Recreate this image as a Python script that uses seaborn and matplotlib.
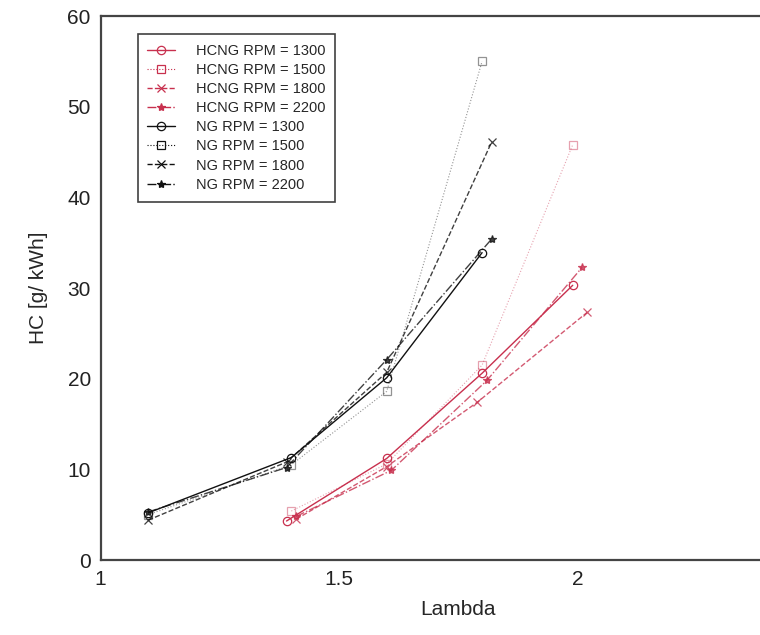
import matplotlib
matplotlib.use("Agg")
import matplotlib.pyplot as plt
import seaborn as sns
import pandas as pd

# ---- data ----
hcng_lambda_1300 = [1.39, 1.60, 1.80, 1.99]
hcng_hc_1300 = [4.3, 11.2, 20.6, 30.3]
hcng_lambda_1500 = [1.40, 1.60, 1.80, 1.99]
hcng_hc_1500 = [5.4, 10.6, 21.5, 45.8]
hcng_lambda_1800 = [1.41, 1.60, 1.79, 2.02]
hcng_hc_1800 = [4.5, 10.3, 17.4, 27.3]
hcng_lambda_2200 = [1.41, 1.61, 1.81, 2.01]
hcng_hc_2200 = [4.8, 9.9, 19.8, 32.3]

ng_lambda_1300 = [1.10, 1.40, 1.60, 1.80]
ng_hc_1300 = [5.2, 11.3, 20.1, 33.9]
ng_lambda_1500 = [1.10, 1.40, 1.60, 1.80]
ng_hc_1500 = [5.0, 10.5, 18.6, 55.0]
ng_lambda_1800 = [1.10, 1.39, 1.60, 1.82]
ng_hc_1800 = [4.4, 10.8, 20.7, 46.1]
ng_lambda_2200 = [1.10, 1.39, 1.60, 1.82]
ng_hc_2200 = [5.3, 10.2, 22.1, 35.4]

x_ticks = [1, 1.5, 2]
x_tick_labels = ["1", "1.5", "2"]
y_ticks = [0, 10, 20, 30, 40, 50, 60]

sns.set_style("white")
plt.rcParams['font.family'] = ['Liberation Sans', 'DejaVu Sans']

RED = "#c8304e"
BLACK = "#111111"

fig = plt.figure(figsize=(7.6, 6.35), dpi=100)
ax = fig.add_axes([100.5 / 760, 75 / 635, 715.5 / 760, 544 / 635])

series = [
    ("HCNG RPM = 1300", hcng_lambda_1300, hcng_hc_1300, RED, "-", "o", 1.0, 1.0),
    ("HCNG RPM = 1500", hcng_lambda_1500, hcng_hc_1500, RED, ":", "s", 0.8, 0.45),
    ("HCNG RPM = 1800", hcng_lambda_1800, hcng_hc_1800, RED, "--", "x", 1.0, 0.8),
    ("HCNG RPM = 2200", hcng_lambda_2200, hcng_hc_2200, RED, "-.", "*", 1.0, 0.8),
    ("NG RPM = 1300", ng_lambda_1300, ng_hc_1300, BLACK, "-", "o", 1.0, 1.0),
    ("NG RPM = 1500", ng_lambda_1500, ng_hc_1500, BLACK, ":", "s", 0.8, 0.45),
    ("NG RPM = 1800", ng_lambda_1800, ng_hc_1800, BLACK, "--", "x", 1.0, 0.8),
    ("NG RPM = 2200", ng_lambda_2200, ng_hc_2200, BLACK, "-.", "*", 1.0, 0.8),
]

for label, xs, ys, col, ls, mk, lw, alpha in series:
    df = pd.DataFrame({"Lambda": xs, "HC": ys})
    open_marker = mk in ("o", "s")
    sns.lineplot(data=df, x="Lambda", y="HC", ax=ax, sort=False,
                 color=col, linestyle=ls, linewidth=lw, alpha=alpha,
                 marker=mk, markersize=6,
                 markerfacecolor="none" if open_marker else col,
                 markeredgecolor=col, markeredgewidth=0.9,
                 label=label)

ax.set_xlim(1, 2.5)
ax.set_ylim(0, 60)
ax.set_xticks(x_ticks)
ax.set_xticklabels(x_tick_labels)
ax.set_yticks(y_ticks)
ax.tick_params(axis="both", direction="in", length=6, width=1.0,
               labelsize=15, colors="#222222", pad=7)
for sp in ax.spines.values():
    sp.set_color("#444444")
    sp.set_linewidth(1.6)

ax.set_xlabel("Lambda", fontsize=15, labelpad=8)
ax.set_ylabel("HC [g/ kWh]", fontsize=15, labelpad=14)

leg = ax.legend(loc="upper left", bbox_to_anchor=(37 / 715.5, 1 - 18 / 544),
                fontsize=10.5, frameon=True, fancybox=False, handlelength=1.9,
                labelspacing=0.35, borderpad=0.68, handletextpad=1.4,
                borderaxespad=0)
leg.get_frame().set_edgecolor("#111111")
leg.get_frame().set_linewidth(1.2)
for h in leg.get_lines():
    h.set_alpha(1.0)

fig.savefig("out.png", dpi=100)
